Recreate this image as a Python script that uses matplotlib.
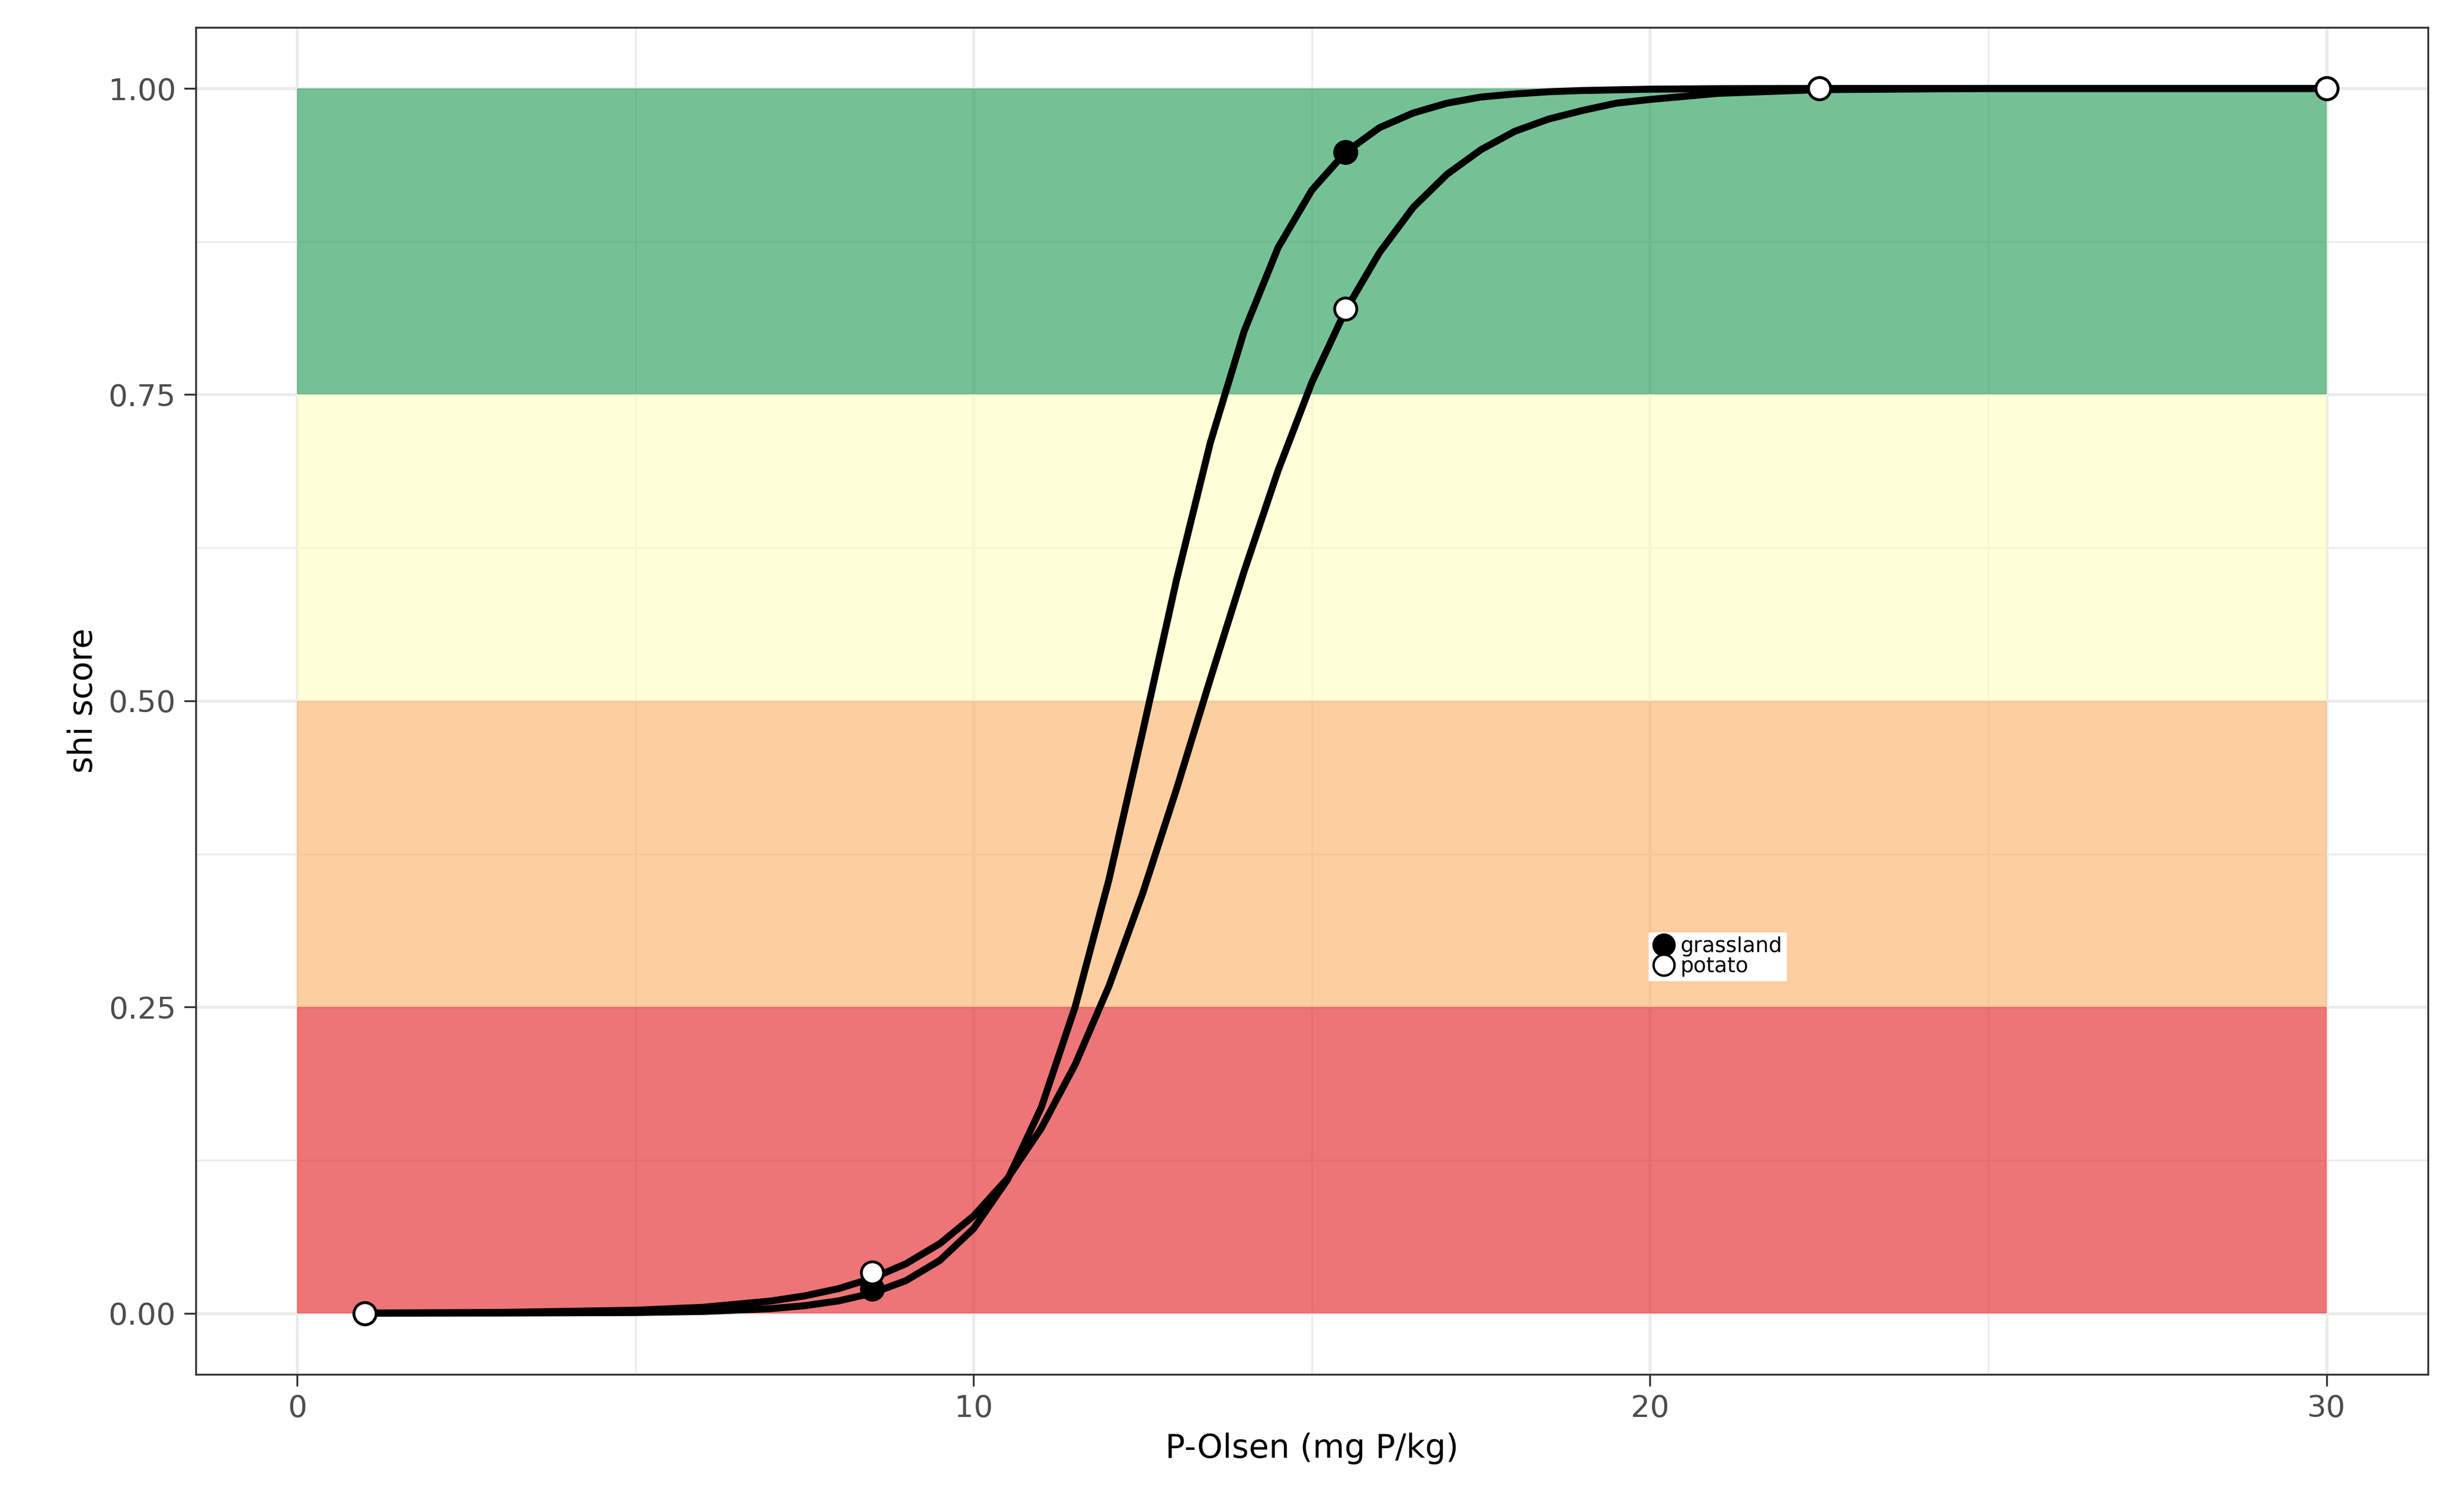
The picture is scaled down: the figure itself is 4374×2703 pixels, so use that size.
import matplotlib
matplotlib.use("Agg")
import matplotlib.pyplot as plt
from matplotlib.lines import Line2D

band_edges = [0.0, 0.25, 0.5, 0.75, 1.0]
band_colors = ["#E41A1C", "#FDAE61", "#FFFFBF", "#1A9850"]

g_x = [1, 3, 5, 6, 7, 7.5, 8, 8.5, 9, 9.5, 10, 10.5, 11, 11.5, 12, 12.5, 13, 13.5, 14, 14.5, 15, 15.5, 16, 16.5, 17, 17.5, 18, 18.5, 19, 20, 21, 22.5, 30]
g_y = [0.0, 0.0001, 0.0005, 0.0014, 0.0037, 0.0061, 0.0100, 0.0163, 0.0266, 0.0431, 0.0691, 0.109, 0.168, 0.250, 0.354, 0.475, 0.599, 0.711, 0.802, 0.870, 0.917, 0.948, 0.968, 0.980, 0.988, 0.993, 0.9955, 0.9973, 0.9983, 0.9994, 0.9998, 1.0, 1.0]
g_px = [1, 8.5, 15.5, 22.5, 30]
g_py = [0.0, 0.02, 0.948, 1.0, 1.0]

p_x = [1, 3, 5, 6, 7, 7.5, 8, 8.5, 9, 9.5, 10, 10.5, 11, 11.5, 12, 12.5, 13, 13.5, 14, 14.5, 15, 15.5, 16, 16.5, 17, 17.5, 18, 18.5, 19, 19.5, 20, 21, 22, 22.5, 25, 30]
p_y = [0.0001, 0.0006, 0.0024, 0.0048, 0.0099, 0.0141, 0.0200, 0.0285, 0.0404, 0.0568, 0.0794, 0.110, 0.151, 0.203, 0.267, 0.343, 0.428, 0.518, 0.606, 0.688, 0.760, 0.819, 0.866, 0.903, 0.930, 0.950, 0.965, 0.975, 0.982, 0.988, 0.991, 0.996, 0.998, 0.999, 1.0, 1.0]
p_px = [1, 8.5, 15.5, 22.5, 30]
p_py = [0.0, 0.033, 0.82, 1.0, 1.0]

fig = plt.figure(figsize=(14.583, 9.01), dpi=300)
ax = fig.add_axes([0.08, 0.091, 0.912, 0.891])
ax.set_xlim(-1.5, 31.5)
ax.set_ylim(-0.05, 1.05)
ax.set_xticks([0, 10, 20, 30])
ax.set_xticks([5, 15, 25], minor=True)
ax.set_yticks([0, 0.25, 0.5, 0.75, 1.0])
ax.set_yticks([0.125, 0.375, 0.625, 0.875], minor=True)
ax.set_yticklabels(["0.00", "0.25", "0.50", "0.75", "1.00"])
ax.grid(True, which="major", color="#ebebeb", lw=1.3, zorder=0)
ax.grid(True, which="minor", color="#ebebeb", lw=0.7, zorder=0)
ax.set_axisbelow(True)
for i, c in enumerate(band_colors):
    ax.fill_between([0, 30], band_edges[i], band_edges[i + 1], color=c, alpha=0.6, lw=0, zorder=1)
ax.plot(g_x, g_y, color="black", lw=3, zorder=3)
ax.plot(p_x, p_y, color="black", lw=3, zorder=3)
ax.scatter(g_px, g_py, s=90, facecolor="black", edgecolor="black", lw=1.2, zorder=4)
ax.scatter(p_px, p_py, s=90, facecolor="white", edgecolor="black", lw=1.2, zorder=5)
for s in ax.spines.values():
    s.set_color("#333333"); s.set_linewidth(0.8)
ax.tick_params(which="major", length=5, color="#333333", labelsize=13, labelcolor="#4d4d4d")
ax.tick_params(which="minor", length=0)
ax.set_xlabel("P-Olsen (mg P/kg)", fontsize=14)
ax.set_ylabel("shi score", fontsize=14)
handles = [Line2D([], [], marker="o", ls="", markerfacecolor="black", markeredgecolor="black", markersize=9, label="grassland"),
           Line2D([], [], marker="o", ls="", markerfacecolor="white", markeredgecolor="black", markersize=9, label="potato")]
ax.legend(handles=handles, loc="upper left", bbox_to_anchor=(20.0, 0.31), bbox_transform=ax.transData,
          fontsize=9, frameon=True, fancybox=False, edgecolor="white", framealpha=1,
          handletextpad=0.3, labelspacing=0.0, borderpad=0.15, handlelength=1.0, borderaxespad=0)
fig.savefig("out.png", dpi=300)
